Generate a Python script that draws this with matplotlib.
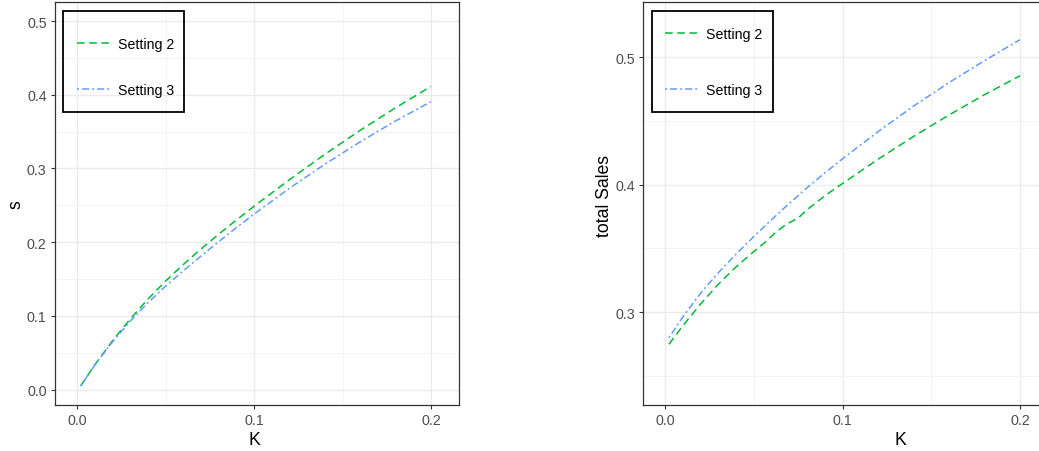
import matplotlib
matplotlib.use("Agg")
import matplotlib.pyplot as plt
from matplotlib.patches import Rectangle
from matplotlib.lines import Line2D

plt.rcParams['font.family'] = ['Liberation Sans', 'DejaVu Sans']

# ---------------- data ----------------
K = [0.002, 0.01, 0.02, 0.03, 0.04, 0.05, 0.057, 0.062, 0.068, 0.075,
     0.08, 0.09, 0.1, 0.12, 0.14, 0.16, 0.18, 0.2]

s_setting2 = [0.005, 0.0338, 0.0663, 0.0958, 0.1228, 0.1473, 0.1631, 0.174, 0.1866, 0.2008,
              0.2108, 0.2301, 0.2488, 0.2848, 0.3192, 0.3518, 0.3824, 0.4114]
s_setting3 = [0.005, 0.0334, 0.0649, 0.0929, 0.1179, 0.1404, 0.1550, 0.1652, 0.1772, 0.1910,
              0.2007, 0.2197, 0.2382, 0.2732, 0.3058, 0.3362, 0.3646, 0.3906]

sales_setting2 = [0.275, 0.2898, 0.3068, 0.3223, 0.3358, 0.3478, 0.3558, 0.3625, 0.3688, 0.3740,
                  0.3805, 0.3914, 0.4010, 0.4200, 0.4378, 0.4546, 0.4705, 0.4853]
sales_setting3 = [0.280, 0.2968, 0.3153, 0.3313, 0.3458, 0.3596, 0.3688, 0.3753, 0.3830, 0.3916,
                  0.3977, 0.4093, 0.4204, 0.4416, 0.4616, 0.4800, 0.4972, 0.5136]

series_labels = ["Setting 2", "Setting 3"]
x_ticks = [0.0, 0.1, 0.2]
x_minor = [0.05, 0.15]
left_yticks = [0.0, 0.1, 0.2, 0.3, 0.4, 0.5]
left_yminor = [0.05, 0.15, 0.25, 0.35, 0.45]
right_yticks = [0.3, 0.4, 0.5]
right_yminor = [0.25, 0.35, 0.45]

# ---------------- style ----------------
GREEN = "#00BA38"
BLUE = "#619CFF"
GRID_MAJOR = "#EBEBEB"
GRID_MINOR = "#F3F3F3"
BORDER = "#333333"
TICKTXT = "#4D4D4D"
LW = 1.1
DASHED = (5, 3)
DOTDASH = (1.3, 2, 4.6, 2)

fig = plt.figure(figsize=(10.39, 4.52), dpi=100)
W, H = 1039, 452

def make_axes(left_px, right_px, top_px, bottom_px):
    return fig.add_axes([left_px / W, 1 - bottom_px / H,
                         (right_px - left_px) / W, (bottom_px - top_px) / H])

ax1 = make_axes(55, 459, 3, 406)
ax2 = make_axes(643.3, 1048, 3, 406)

def style(ax, yticks, yminor, ylim):
    ax.set_xlim(-0.0125, 0.2158)
    ax.set_ylim(*ylim)
    ax.set_xticks(x_ticks)
    ax.set_xticklabels([f"{v:.1f}" for v in x_ticks])
    ax.set_xticks(x_minor, minor=True)
    ax.set_yticks(yticks)
    ax.set_yticklabels([f"{v:.1f}" for v in yticks])
    ax.set_yticks(yminor, minor=True)
    ax.grid(which='major', color=GRID_MAJOR, lw=1.0)
    ax.grid(which='minor', color=GRID_MINOR, lw=0.6)
    ax.set_axisbelow(True)
    ax.tick_params(which='major', length=3, width=0.8, color=BORDER,
                   labelsize=10.3, labelcolor=TICKTXT, pad=3)
    ax.tick_params(which='minor', length=0)
    for sp in ax.spines.values():
        sp.set_color(BORDER)
        sp.set_linewidth(0.9)

style(ax1, left_yticks, left_yminor, (-0.0208, 0.5258))
style(ax2, right_yticks, right_yminor, (0.2274, 0.5431))

ax1.plot(K, s_setting2, color=GREEN, lw=LW, dashes=DASHED)
ax1.plot(K, s_setting3, color=BLUE, lw=LW, dashes=DOTDASH)
ax2.plot(K, sales_setting2, color=GREEN, lw=LW, dashes=DASHED)
ax2.plot(K, sales_setting3, color=BLUE, lw=LW, dashes=DOTDASH)

ax1.set_xlabel("K", fontsize=12.7)
ax1.set_ylabel("s", fontsize=12.7)
ax2.set_xlabel("K", fontsize=12.7)
ax2.set_ylabel("total Sales", fontsize=12.7)
ax1.xaxis.set_label_coords(0.4926, -0.064)
ax2.xaxis.set_label_coords(0.634, -0.064)
ax1.yaxis.set_label_coords(-0.0756, 0.5)
ax2.yaxis.set_label_coords(-0.0756, 0.52)

handles = [Line2D([], [], color=GREEN, lw=LW, dashes=DASHED),
           Line2D([], [], color=BLUE, lw=LW, dashes=DOTDASH)]

def add_legend(ax, box, first_top_px, spacing, x_anchor):
    x0, x1 = box
    ax.add_patch(Rectangle((x0, 0.727), x1 - x0, 0.9777 - 0.727,
                           transform=ax.transAxes, fill=False,
                           edgecolor="black", lw=1.3, zorder=5))
    leg = ax.legend(handles, series_labels, loc='upper left',
                    bbox_to_anchor=(x_anchor, (406 - first_top_px) / 403),
                    frameon=False, fontsize=10.2, handlelength=2.46,
                    handletextpad=0.42, borderpad=0, borderaxespad=0,
                    labelspacing=spacing)
    leg.set_zorder(6)

add_legend(ax1, (0.0198, 0.3193), 38, 2.29, 0.0545)
add_legend(ax2, (0.0208, 0.3205), 28, 2.99, 0.0536)

fig.savefig("out.png", dpi=100)
